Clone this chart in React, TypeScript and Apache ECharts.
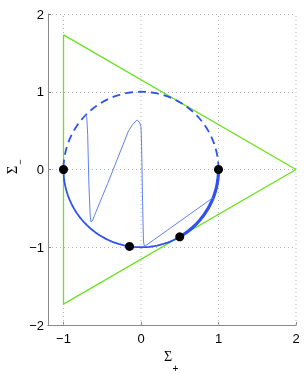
import React, { useEffect, useRef } from "react";
import * as echarts from "echarts";

const xTicks = [-1, 0, 1, 2];
const yTicks = [-2, -1, 0, 1, 2];

const triX = [-1, 2, -1, -1];
const triY = [1.732, 0, -1.732, 1.732];

const dotX = [-1, 1, -0.148, 0.5];
const dotY = [0, 0, -0.99, -0.866];

const thinX = [-0.745, -0.716, -0.7, -0.688, -0.672, -0.655, -0.645, -0.63, -0.6, -0.43, -0.16, -0.11, -0.055, -0.02, 0.0, 0.008, 0.02, 0.032, 0.045, 0.933];
const thinY = [0.675, 0.71, 0.67, 0.45, -0.2, -0.6, -0.675, -0.665, -0.59, -0.18, 0.5, 0.575, 0.635, 0.61, 0.55, 0.3, -0.4, -0.93, -0.99, -0.36];

// circle arcs (degrees)
const upperArc = [0, 180];
const lowerArc = [180, 360];
const thickArc = [298, 360];

function arcPoints(a0: number, a1: number): number[][] {
  const pts: number[][] = [];
  const n = Math.max(2, Math.round(Math.abs(a1 - a0) / 2));
  for (let i = 0; i <= n; i++) {
    const a = ((a0 + ((a1 - a0) * i) / n) * Math.PI) / 180;
    pts.push([Math.cos(a), Math.sin(a)]);
  }
  return pts;
}

const fmt = (v: number) => String(v).replace("-", "\u2212");

export default function App() {
  const ref = useRef<HTMLDivElement>(null);
  useEffect(() => {
    if (!ref.current) return;
    const chart = echarts.init(ref.current, null, { renderer: "svg" });
    const blue = "#2f52ee";
    const thinBlue = "#5f80f4";
    const green = "#6ae21e";
    const gridColor = "#b4b4b4";
    const axisColor = "#8a8a8a";
    const xGridSeries = xTicks.map((t) => ({
      type: "line",
      data: [
        [t, yTicks[0]],
        [t, yTicks[yTicks.length - 1]],
      ],
      symbol: "none",
      silent: true,
      lineStyle: { color: gridColor, width: 1, type: [1, 3] },
      z: 1,
    }));
    chart.setOption({
      animation: false,
      grid: { left: 48, right: 9, top: 14, bottom: 49, outerBoundsMode: "none" },
      xAxis: {
        type: "value",
        min: -1.2,
        max: 2,
        axisLine: { show: true, onZero: false, lineStyle: { color: axisColor, width: 1 } },
        axisTick: { show: true, inside: true, length: 3, customValues: xTicks, lineStyle: { color: axisColor } },
        axisLabel: {
          customValues: xTicks,
          formatter: fmt,
          color: "#000",
          fontSize: 13,
          fontFamily: "Liberation Sans",
          margin: 7,
        },
        splitLine: { show: false },
      },
      yAxis: {
        type: "value",
        min: -2,
        max: 2,
        interval: 1,
        axisLine: { show: true, onZero: false, lineStyle: { color: axisColor, width: 1 } },
        axisTick: { show: true, inside: true, length: 3, lineStyle: { color: axisColor } },
        axisLabel: {
          formatter: fmt,
          color: "#000",
          fontSize: 13,
          fontFamily: "Liberation Sans",
          margin: 4,
        },
        splitLine: { show: true, lineStyle: { color: gridColor, width: 1, type: [1, 3] } },
      },
      graphic: [
        { type: "text", x: 168, y: 356, style: { text: "Σ", font: "14px 'Liberation Serif'", fill: "#000", align: "center", verticalAlign: "middle" } },
        { type: "text", x: 175.5, y: 368, style: { text: "+", font: "10px 'Liberation Sans'", fill: "#000", align: "center", verticalAlign: "middle" } },
        {
          type: "group",
          x: 12,
          y: 170,
          rotation: Math.PI / 2,
          children: [
            { type: "text", x: 0, y: 0, style: { text: "Σ", font: "14px 'Liberation Serif'", fill: "#000", align: "center", verticalAlign: "middle" } },
            { type: "text", x: 8, y: 8, style: { text: "\u2212", font: "9px 'Liberation Sans'", fill: "#000", align: "center", verticalAlign: "middle" } },
          ],
        },
      ],
      series: [
        ...xGridSeries,
        {
          type: "line",
          data: triX.map((x, i) => [x, triY[i]]),
          symbol: "none",
          lineStyle: { color: green, width: 1.3 },
          z: 2,
        },
        {
          type: "line",
          data: arcPoints(upperArc[0], upperArc[1]),
          symbol: "none",
          lineStyle: { color: blue, width: 1.8, type: [8, 5] },
          z: 3,
        },
        {
          type: "line",
          data: arcPoints(lowerArc[0], lowerArc[1]),
          symbol: "none",
          lineStyle: { color: blue, width: 1.8 },
          z: 3,
        },
        {
          type: "line",
          data: arcPoints(thickArc[0], thickArc[1]),
          symbol: "none",
          lineStyle: { color: blue, width: 3.2 },
          z: 3,
        },
        {
          type: "line",
          data: thinX.map((x, i) => [x, thinY[i]]),
          symbol: "none",
          lineStyle: { color: thinBlue, width: 1 },
          z: 4,
        },
        {
          type: "scatter",
          data: dotX.map((x, i) => [x, dotY[i]]),
          symbolSize: 9,
          itemStyle: { color: "#000", opacity: 1 },
          z: 5,
        },
      ],
    });
    return () => chart.dispose();
  }, []);
  return <div ref={ref} style={{ position: "fixed", left: 0, top: 0, width: 305, height: 374 }} />;
}
